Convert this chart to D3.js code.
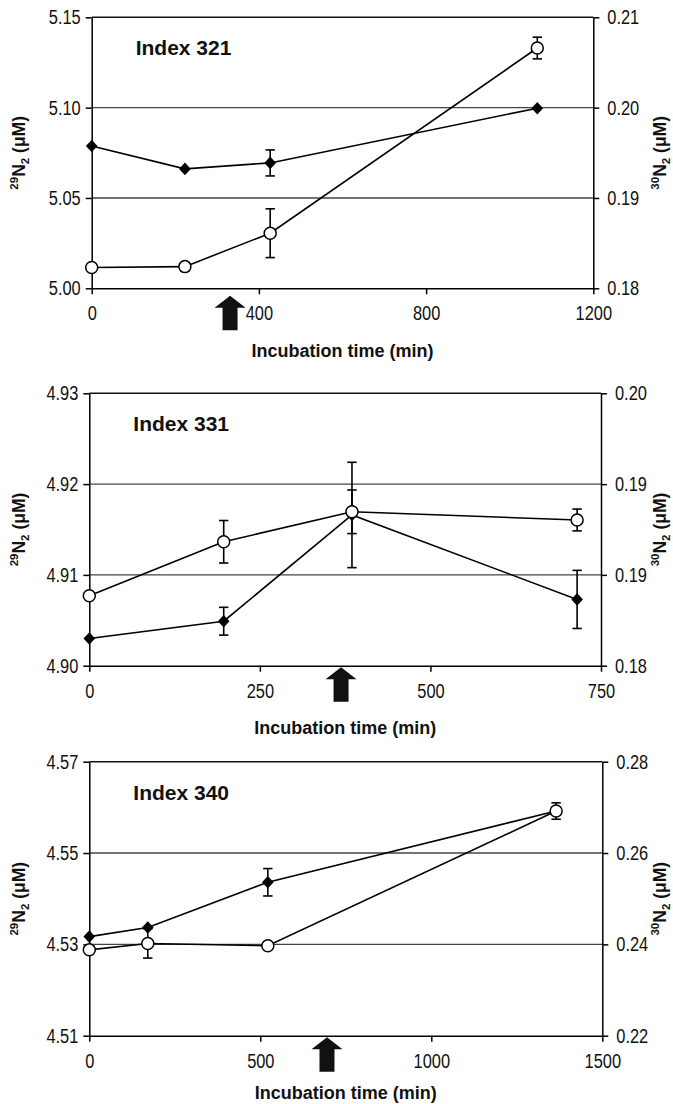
<!DOCTYPE html>
<html>
<head>
<meta charset="utf-8">
<script src="https://cdnjs.cloudflare.com/ajax/libs/d3/7.8.5/d3.min.js"></script>
<style>
body { margin: 0; background: #fff; }
svg { display: block; }
text { font-family: 'Liberation Sans', Arial, sans-serif; fill: #111; }
</style>
</head>
<body>
<div class="graph"></div>
<script>
//data//

//Index 321
let time321 = [0, 223, 427, 1066];
let n29_321 = [5.0788, 5.0661, 5.0694, 5.0997];
let n29err321 = [0, 0, 0.0072, 0];
let n30_321 = [0.1823, 0.1824, 0.1861, 0.2066];
let n30err321 = [0, 0.00044, 0.0027, 0.0012];
let arrow321 = 331;
let xTicks321 = [0, 400, 800, 1200];
let y29Ticks321 = [5.00, 5.05, 5.10, 5.15];
let y30Ticks321 = [0.18, 0.19, 0.20, 0.21];

//Index 331
let time331 = [0, 197, 385, 715];
let n29_331 = [4.9030, 4.9049, 4.9166, 4.9073];
let n29err331 = [0, 0.00153, 0.0058, 0.0032];
let n30_331 = [0.18514, 0.1891, 0.1913, 0.1907];
let n30err331 = [0, 0.00156, 0.0016, 0.0008];
let arrow331 = 369;
let xTicks331 = [0, 250, 500, 750];
let y29Ticks331 = [4.90, 4.91, 4.92, 4.93];
let y30Ticks331 = [0.18, 0.18667, 0.19333, 0.20];

//Index 340
let time340 = [0, 171, 522, 1365];
let n29_340 = [4.5317, 4.5337, 4.5436, 4.5592];
let n29err340 = [0, 0, 0.003, 0];
let n30_340 = [0.2388, 0.2402, 0.2397, 0.2692];
let n30err340 = [0, 0.0032, 0.0006, 0.0018];
let arrow340 = 695;
let xTicks340 = [0, 500, 1000, 1500];
let y29Ticks340 = [4.51, 4.53, 4.55, 4.57];
let y30Ticks340 = [0.22, 0.24, 0.26, 0.28];

//various constants//
let w = 673;
let h = 1104;
let narrow = 0.82;   // tick font in the figure is a narrow face

let panels = [
    {title: 'Index 321', time: time321, n29: n29_321, n29err: n29err321, n30: n30_321, n30err: n30err321,
     arrow: arrow321, xTicks: xTicks321, y29Ticks: y29Ticks321, y30Ticks: y30Ticks321,
     left: 91.7, right: 593.3, top: 17.3, bottom: 288.3, arrowGap: 7.4, titleGap: 69},
    {title: 'Index 331', time: time331, n29: n29_331, n29err: n29err331, n30: n30_331, n30err: n30err331,
     arrow: arrow331, xTicks: xTicks331, y29Ticks: y29Ticks331, y30Ticks: y30Ticks331,
     left: 89.3, right: 601, top: 393.3, bottom: 665.7, arrowGap: 1.6, titleGap: 68.5},
    {title: 'Index 340', time: time340, n29: n29_340, n29err: n29err340, n30: n30_340, n30err: n30err340,
     arrow: arrow340, xTicks: xTicks340, y29Ticks: y29Ticks340, y30Ticks: y30Ticks340,
     left: 89.3, right: 602.3, top: 761.7, bottom: 1035.7, arrowGap: 1.6, titleGap: 63.5}
];

let svg = d3.select('.graph')
    .append('svg')
    .attr('width', w)
    .attr('height', h)
    .style('background-color', '#ffffff');

//squeeze tick labels to the narrow look of the original
function condense(sel) {
    sel.each(function () {
        let len = this.getComputedTextLength();
        d3.select(this)
            .attr('textLength', len * narrow)
            .attr('lengthAdjust', 'spacingAndGlyphs');
    });
}

function styleAxis(g) {
    g.attr('font-size', 20);
    g.selectAll('path, line').attr('stroke', '#000').attr('stroke-width', 1.5);
    g.selectAll('.tick text').call(condense);
}

// y label with superscript mass number and subscript 2
function isoLabel(g, mass, tx, ty) {
    let t = g.append('text')
        .attr('transform', `translate(${tx},${ty}) rotate(-90)`)
        .attr('text-anchor', 'middle')
        .attr('font-weight', 'bold')
        .attr('font-size', 17.5);
    t.append('tspan').attr('font-size', 11.5).attr('dy', -7).text(mass);
    t.append('tspan').attr('dy', 7).text('N');
    t.append('tspan').attr('font-size', 11.5).attr('dy', 3.5).text('2');
    t.append('tspan').attr('dy', -3.5).text(' (μM)');
}

let diamond = 'M0,-6.3L5.8,0L0,6.3L-5.8,0Z';

panels.forEach(p => {

    let xScale = d3.scaleLinear()
        .domain(d3.extent(p.xTicks))
        .range([p.left, p.right]);

    let y29 = d3.scaleLinear()
        .domain(d3.extent(p.y29Ticks))
        .range([p.bottom, p.top]);

    let y30 = d3.scaleLinear()
        .domain(d3.extent(p.y30Ticks))
        .range([p.bottom, p.top]);

    let g = svg.append('g');

    //gridlines + top frame
    g.selectAll('.grid')
        .data(p.y29Ticks.slice(1))
        .enter()
        .append('line')
        .attr('class', 'grid')
        .attr('x1', p.left)
        .attr('x2', p.right)
        .attr('y1', d => y29(d))
        .attr('y2', d => y29(d))
        .attr('stroke', (d, i) => i == p.y29Ticks.length - 2 ? '#111' : '#444')
        .attr('stroke-width', 1.4);

    //axes
    g.append('g')
        .attr('transform', `translate(0,${p.bottom})`)
        .call(d3.axisBottom(xScale).tickValues(p.xTicks).tickSize(6).tickSizeOuter(0)
            .tickPadding(12).tickFormat(d3.format('d')))
        .call(styleAxis);

    g.append('g')
        .attr('transform', `translate(${p.left},0)`)
        .call(d3.axisLeft(y29).tickValues(p.y29Ticks).tickSize(6).tickSizeOuter(0)
            .tickPadding(5).tickFormat(d3.format('.2f')))
        .call(styleAxis);

    g.append('g')
        .attr('transform', `translate(${p.right},0)`)
        .call(d3.axisRight(y30).tickValues(p.y30Ticks).tickSize(6).tickSizeOuter(0)
            .tickPadding(8).tickFormat(d3.format('.2f')))
        .call(styleAxis);

    //axis titles
    g.append('text')
        .attr('x', (p.left + p.right) / 2)
        .attr('y', p.bottom + p.titleGap)
        .attr('text-anchor', 'middle')
        .attr('font-weight', 'bold')
        .attr('font-size', 18)
        .text('Incubation time (min)');

    isoLabel(g, '29', 25, (p.top + p.bottom) / 2);
    isoLabel(g, '30', w - 7, (p.top + p.bottom) / 2);

    //panel title
    g.append('text')
        .attr('x', p.left + 44)
        .attr('y', p.top + 38)
        .attr('font-weight', 'bold')
        .attr('font-size', 21)
        .text(p.title);

    //arrow marking the addition time
    let ax = xScale(p.arrow);
    let at = p.bottom + p.arrowGap;
    g.append('path')
        .attr('d', `M${ax},${at}L${ax + 15.5},${at + 12}L${ax + 7.5},${at + 12}L${ax + 7.5},${at + 34.5}` +
            `L${ax - 7.5},${at + 34.5}L${ax - 7.5},${at + 12}L${ax - 15.5},${at + 12}Z`)
        .attr('fill', '#111');

    //series lines
    let line29 = d3.line().x((d, i) => xScale(p.time[i])).y(d => y29(d));
    let line30 = d3.line().x((d, i) => xScale(p.time[i])).y(d => y30(d));

    g.append('path')
        .datum(p.n29)
        .attr('d', line29)
        .attr('fill', 'none')
        .attr('stroke', '#000')
        .attr('stroke-width', 1.6);

    g.append('path')
        .datum(p.n30)
        .attr('d', line30)
        .attr('fill', 'none')
        .attr('stroke', '#000')
        .attr('stroke-width', 1.6);

    //error bars
    function errorBars(vals, errs, yScale) {
        vals.forEach((v, i) => {
            if (errs[i] <= 0) return;
            let cx = xScale(p.time[i]);
            let y1 = yScale(v - errs[i]);
            let y2 = yScale(v + errs[i]);
            g.append('line').attr('x1', cx).attr('x2', cx).attr('y1', y1).attr('y2', y2)
                .attr('stroke', '#000').attr('stroke-width', 1.6);
            [y1, y2].forEach(yy => {
                g.append('line').attr('x1', cx - 4.7).attr('x2', cx + 4.7).attr('y1', yy).attr('y2', yy)
                    .attr('stroke', '#000').attr('stroke-width', 1.6);
            });
        });
    }
    errorBars(p.n29, p.n29err, y29);
    errorBars(p.n30, p.n30err, y30);

    //markers
    g.selectAll('.dia')
        .data(p.n29)
        .enter()
        .append('path')
        .attr('class', 'dia')
        .attr('d', diamond)
        .attr('transform', (d, i) => `translate(${xScale(p.time[i])},${y29(d)})`)
        .attr('fill', '#000');

    g.selectAll('.circ')
        .data(p.n30)
        .enter()
        .append('circle')
        .attr('class', 'circ')
        .attr('cx', (d, i) => xScale(p.time[i]))
        .attr('cy', d => y30(d))
        .attr('r', 6)
        .attr('fill', '#fff')
        .attr('stroke', '#000')
        .attr('stroke-width', 1.5);
});
</script>
</body>
</html>
